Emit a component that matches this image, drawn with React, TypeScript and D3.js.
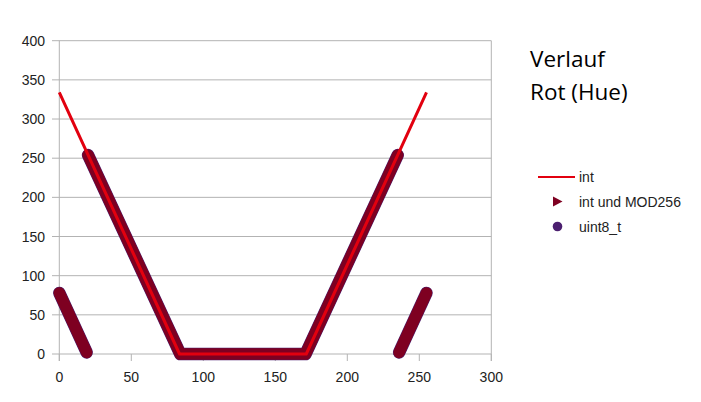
import React from "react";
import * as d3 from "d3";

// x ticks and y ticks
const xTicks = [0, 50, 100, 150, 200, 250, 300];
const yTicks = [0, 50, 100, 150, 200, 250, 300, 350, 400];

// Series "int" (line): breakpoints of the hue red channel without wrap
const intX = [0, 83.5, 171.5, 255];
const intY = [334, 0, 0, 334];

// Series "int und MOD256" (triangles) – segments (value wraps at 256)
const modSeg1X = [0, 19];
const modSeg1Y = [78, 2];
const modSeg2X = [20, 84, 171, 235];
const modSeg2Y = [254, 0, 0, 254];
const modSeg3X = [236, 255];
const modSeg3Y = [2, 78];

// Series "uint8_t" (circles) – same values as MOD256
const u8Seg1X = [0, 19];
const u8Seg1Y = [78, 2];
const u8Seg2X = [20, 84, 171, 235];
const u8Seg2Y = [254, 0, 0, 254];
const u8Seg3X = [236, 255];
const u8Seg3Y = [2, 78];

const titleLines = ["Verlauf", "Rot (Hue)"];
const legendLabels = ["int", "int und MOD256", "uint8_t"];

const RED = "#e2000f";
const DARK = "#7e0021";
const PURPLE = "#4b1f6f";

export default function App() {
  const W = 701, H = 402;
  const x = d3.scaleLinear().domain([0, 300]).range([59.3, 491.3]);
  const y = d3.scaleLinear().domain([0, 400]).range([354, 40.7]);
  const line = d3.line<[number, number]>().x(d => x(d[0])).y(d => y(d[1]));
  const zip = (a: number[], b: number[]) => a.map((v, i) => [v, b[i]] as [number, number]);

  const u8Segs = [zip(u8Seg1X, u8Seg1Y), zip(u8Seg2X, u8Seg2Y), zip(u8Seg3X, u8Seg3Y)];
  const modSegs = [zip(modSeg1X, modSeg1Y), zip(modSeg2X, modSeg2Y), zip(modSeg3X, modSeg3Y)];
  const intPts = zip(intX, intY);

  const axFont = "'Liberation Sans', Arial, sans-serif";

  return (
    <svg width={W} height={H} style={{ position: "absolute", left: 0, top: 0, background: "#fff" }}>
      <rect width={W} height={H} fill="#fff" />
      {/* grid */}
      {yTicks.map(t => (
        <g key={"y" + t}>
          <line x1={52} x2={x(300)} y1={y(t)} y2={y(t)} stroke="#b3b3b3" strokeWidth={1} />
          <text x={45} y={y(t) + 5} textAnchor="end" fontFamily={axFont} fontSize={14} fill="#222">{t}</text>
        </g>
      ))}
      <line x1={x(0)} x2={x(0)} y1={y(400)} y2={361} stroke="#b3b3b3" strokeWidth={1} />
      <line x1={x(300)} x2={x(300)} y1={y(400)} y2={361} stroke="#b3b3b3" strokeWidth={1} />
      {xTicks.map(t => (
        <g key={"x" + t}>
          <line x1={x(t)} x2={x(t)} y1={y(0)} y2={361} stroke="#b3b3b3" strokeWidth={1} />
          <text x={x(t)} y={382} textAnchor="middle" fontFamily={axFont} fontSize={14} fill="#222">{t}</text>
        </g>
      ))}
      {/* uint8_t circles band */}
      {u8Segs.map((s, i) => (
        <path key={"u" + i} d={line(s) || ""} fill="none" stroke={PURPLE} strokeWidth={12.5} strokeLinecap="round" strokeLinejoin="round" />
      ))}
      {/* MOD256 triangles band */}
      {modSegs.map((s, i) => (
        <path key={"m" + i} d={line(s) || ""} fill="none" stroke={DARK} strokeWidth={11.5} strokeLinecap="round" strokeLinejoin="round" />
      ))}
      {/* int line */}
      <path d={line(intPts) || ""} fill="none" stroke={RED} strokeWidth={3} strokeLinejoin="round" />
      {/* title */}
      {titleLines.map((t, i) => (
        <text key={t} x={530} y={67 + i * 33} fontFamily="'Open Sans', sans-serif" fontSize={22.5} fill="#000">{t}</text>
      ))}
      {/* legend */}
      <line x1={538} x2={575} y1={177} y2={177} stroke={RED} strokeWidth={2} />
      <path d="M553,196.5 L562.5,201.5 L553,206.5 Z" fill={DARK} />
      <circle cx={557.5} cy={226.5} r={4.8} fill={PURPLE} />
      {legendLabels.map((t, i) => (
        <text key={t} x={579} y={182 + i * 25} fontFamily={axFont} fontSize={14} fill="#222">{t}</text>
      ))}
    </svg>
  );
}
